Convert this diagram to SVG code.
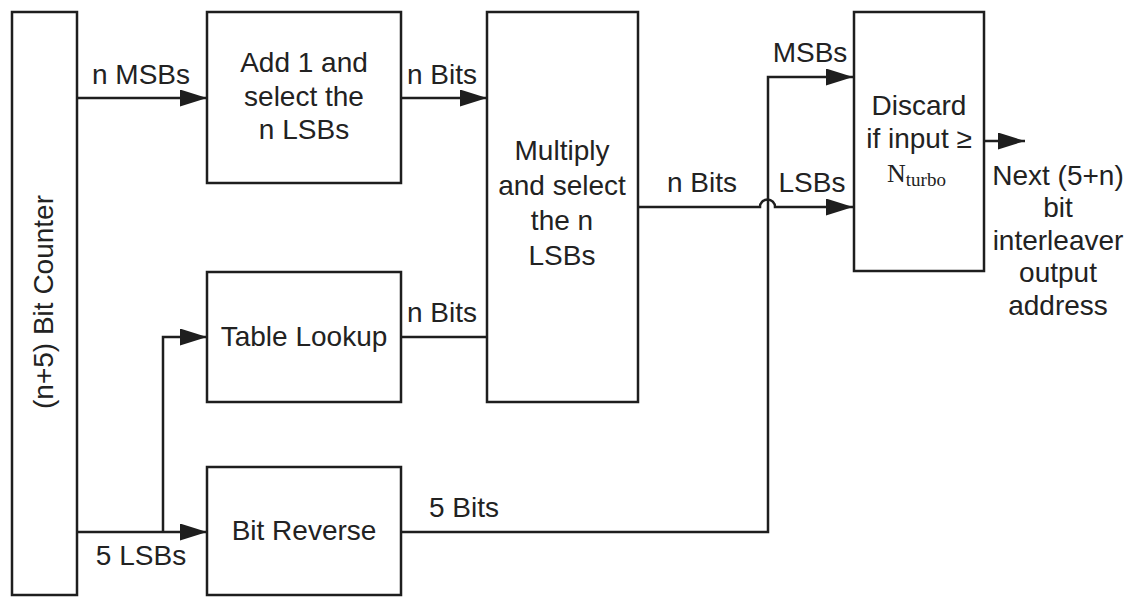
<svg xmlns="http://www.w3.org/2000/svg" width="1138" height="597" viewBox="0 0 1138 597">
<style>
.box{fill:#fff;stroke:#1e1e1e;stroke-width:2.5}
.ln{fill:none;stroke:#1e1e1e;stroke-width:2.5}
text{font-family:"Liberation Sans",Arial,sans-serif;font-size:28px;fill:#222;text-anchor:middle}
.serif{font-family:"Liberation Serif","Times New Roman",serif}
</style>
<defs>
<marker id="arr" markerUnits="userSpaceOnUse" markerWidth="28" markerHeight="18" refX="27" refY="8.5" orient="auto">
<path d="M0,0 L27,8.5 L0,17 Z" fill="#1e1e1e"/>
</marker>
</defs>
<g id="connectors">
<path class="ln" d="M77,98 H207" marker-end="url(#arr)"/>
<path class="ln" d="M401,98 H487" marker-end="url(#arr)"/>
<path class="ln" d="M401,337 H487"/>
<path class="ln" d="M77,532 H207" marker-end="url(#arr)"/>
<path class="ln" d="M163,532 V337 H207" marker-end="url(#arr)"/>
<path class="ln" d="M401,532 H768 V77 H853" marker-end="url(#arr)"/>
<path class="ln" d="M638,207 H760 A7,7 0 0 1 775,207 H853" marker-end="url(#arr)"/>
<path class="ln" d="M984,141 H1025" marker-end="url(#arr)"/>
<text x="141" y="84">n MSBs</text>
<text x="442" y="84">n Bits</text>
<text x="442" y="322">n Bits</text>
<text x="141" y="565">5 LSBs</text>
<text x="464" y="517">5 Bits</text>
<text x="702" y="192">n Bits</text>
<text x="810" y="62">MSBs</text>
<text x="812" y="192">LSBs</text>
</g>
<g id="counter">
<rect class="box" x="12" y="12" width="65" height="583"/>
<text transform="translate(53,302) rotate(-90)">(n+5) Bit Counter</text>
</g>
<g id="add">
<rect class="box" x="207" y="12" width="194" height="171"/>
<text x="304" y="72">Add 1 and</text>
<text x="304" y="106">select the</text>
<text x="304" y="139">n LSBs</text>
</g>
<g id="table">
<rect class="box" x="207" y="272" width="194" height="130"/>
<text x="304" y="346">Table Lookup</text>
</g>
<g id="reverse">
<rect class="box" x="207" y="467" width="194" height="128"/>
<text x="304" y="540">Bit Reverse</text>
</g>
<g id="multiply">
<rect class="box" x="487" y="12" width="151" height="390"/>
<text x="562" y="160">Multiply</text>
<text x="562" y="195">and select</text>
<text x="562" y="230">the n</text>
<text x="562" y="265">LSBs</text>
</g>
<g id="discard">
<rect class="box" x="854" y="12" width="130" height="259"/>
<text x="919" y="115">Discard</text>
<text x="919" y="148">if input ≥</text>
<text class="serif" x="887" y="182" style="text-anchor:start;font-size:26px">N<tspan dy="4" style="font-size:19px">turbo</tspan></text>
</g>
<g id="output">
<text x="1058" y="185">Next (5+n)</text>
<text x="1058" y="217">bit</text>
<text x="1058" y="250">interleaver</text>
<text x="1058" y="282">output</text>
<text x="1058" y="315">address</text>
</g>
</svg>
